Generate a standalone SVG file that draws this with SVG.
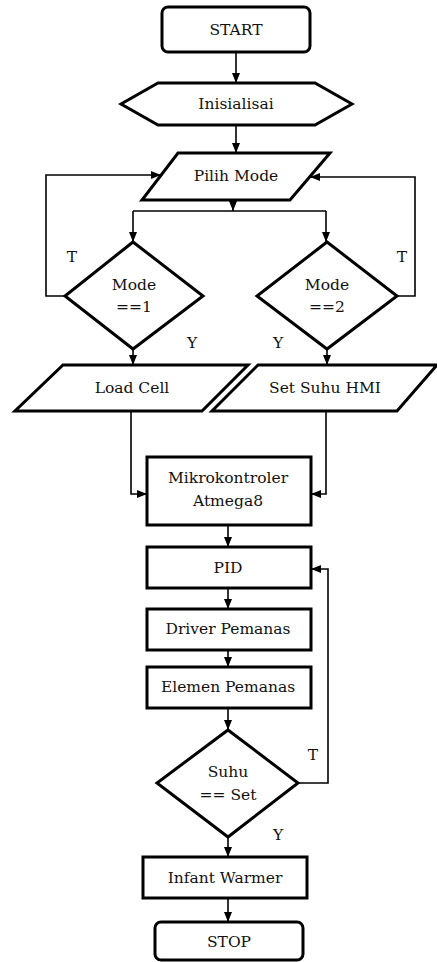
<svg xmlns="http://www.w3.org/2000/svg" width="437" height="962" viewBox="0 0 437 962" font-family="'DejaVu Serif', 'Liberation Serif', serif">
<defs>
<style>
.shape{fill:#fff;stroke:#000;stroke-width:3;stroke-linejoin:miter}
.conn{fill:none;stroke:#000;stroke-width:1.6}
text{font-family:'DejaVu Serif','Liberation Serif',serif;font-size:15.5px;fill:#111;text-anchor:middle;dominant-baseline:central}
</style>
<marker id="ah" markerUnits="userSpaceOnUse" markerWidth="10" markerHeight="10" viewBox="0 0 10 10" refX="10" refY="5" orient="auto">
<path d="M0,1 L10,5 L0,9 Z" fill="#000"/>
</marker>
</defs>
<rect width="437" height="962" fill="#fff"/>
<g id="connectors">
<path class="conn" d="M236 52 V83" marker-end="url(#ah)"/>
<path class="conn" d="M236 125 V153" marker-end="url(#ah)"/>
<path class="conn" d="M233 200 V211" marker-end="url(#ah)"/>
<path class="conn" d="M133 211 H326"/>
<path class="conn" d="M133 211 V242" marker-end="url(#ah)"/>
<path class="conn" d="M326 211 V242" marker-end="url(#ah)"/>
<path class="conn" d="M65 296 H46 V175 H161" marker-end="url(#ah)"/>
<path class="conn" d="M397 296 H415 V177 H310" marker-end="url(#ah)"/>
<path class="conn" d="M133 349 V365" marker-end="url(#ah)"/>
<path class="conn" d="M327 349 V365" marker-end="url(#ah)"/>
<path class="conn" d="M131 411 V494 H147" marker-end="url(#ah)"/>
<path class="conn" d="M326 411 V494 H311" marker-end="url(#ah)"/>
<path class="conn" d="M228 525 V547" marker-end="url(#ah)"/>
<path class="conn" d="M228 588 V609" marker-end="url(#ah)"/>
<path class="conn" d="M228 650 V667" marker-end="url(#ah)"/>
<path class="conn" d="M228 708 V730" marker-end="url(#ah)"/>
<path class="conn" d="M298 783 H328 V569 H311" marker-end="url(#ah)"/>
<path class="conn" d="M228 837 V857" marker-end="url(#ah)"/>
<path class="conn" d="M228 898 V922" marker-end="url(#ah)"/>
<text x="72" y="257">T</text>
<text x="402" y="257">T</text>
<text x="192" y="343">Y</text>
<text x="278" y="343">Y</text>
<text x="313" y="755">T</text>
<text x="278" y="835">Y</text>
</g>
<g id="start">
<rect class="shape" x="162" y="7" width="148" height="45" rx="6"/>
<text x="236" y="30">START</text>
</g>
<g id="inisialisai">
<polygon class="shape" points="121,104 158,83 315,83 352,104 315,125 158,125"/>
<text x="236" y="104">Inisialisai</text>
</g>
<g id="pilih-mode">
<polygon class="shape" points="178,153 330,153 290,200 142,200"/>
<text x="236" y="176">Pilih Mode</text>
</g>
<g id="mode1">
<polygon class="shape" points="133,242 203,296 133,349 65,296"/>
<text x="134" y="285">Mode</text>
<text x="134" y="307">==1</text>
</g>
<g id="mode2">
<polygon class="shape" points="327,242 397,296 327,349 257,296"/>
<text x="327" y="285">Mode</text>
<text x="327" y="307">==2</text>
</g>
<g id="load-cell">
<polygon class="shape" points="63,365 248,365 202,411 15,411"/>
<text x="132" y="388">Load Cell</text>
</g>
<g id="set-suhu">
<polygon class="shape" points="258,365 437,365 397,411 212,411"/>
<text x="325" y="388">Set Suhu HMI</text>
</g>
<g id="mikrokontroler">
<rect class="shape" x="147" y="457" width="164" height="68"/>
<text x="228" y="478">Mikrokontroler</text>
<text x="228" y="501">Atmega8</text>
</g>
<g id="pid">
<rect class="shape" x="147" y="547" width="164" height="41"/>
<text x="228" y="568">PID</text>
</g>
<g id="driver">
<rect class="shape" x="147" y="609" width="164" height="41"/>
<text x="228" y="629">Driver Pemanas</text>
</g>
<g id="elemen">
<rect class="shape" x="147" y="667" width="164" height="41"/>
<text x="228" y="687">Elemen Pemanas</text>
</g>
<g id="suhu-set">
<polygon class="shape" points="228,730 298,783 228,837 157,783"/>
<text x="228" y="772">Suhu</text>
<text x="228" y="795">== Set</text>
</g>
<g id="infant-warmer">
<rect class="shape" x="143" y="857" width="164" height="41"/>
<text x="225" y="878">Infant Warmer</text>
</g>
<g id="stop">
<rect class="shape" x="155" y="922" width="148" height="38" rx="6"/>
<text x="229" y="942">STOP</text>
</g>
</svg>
